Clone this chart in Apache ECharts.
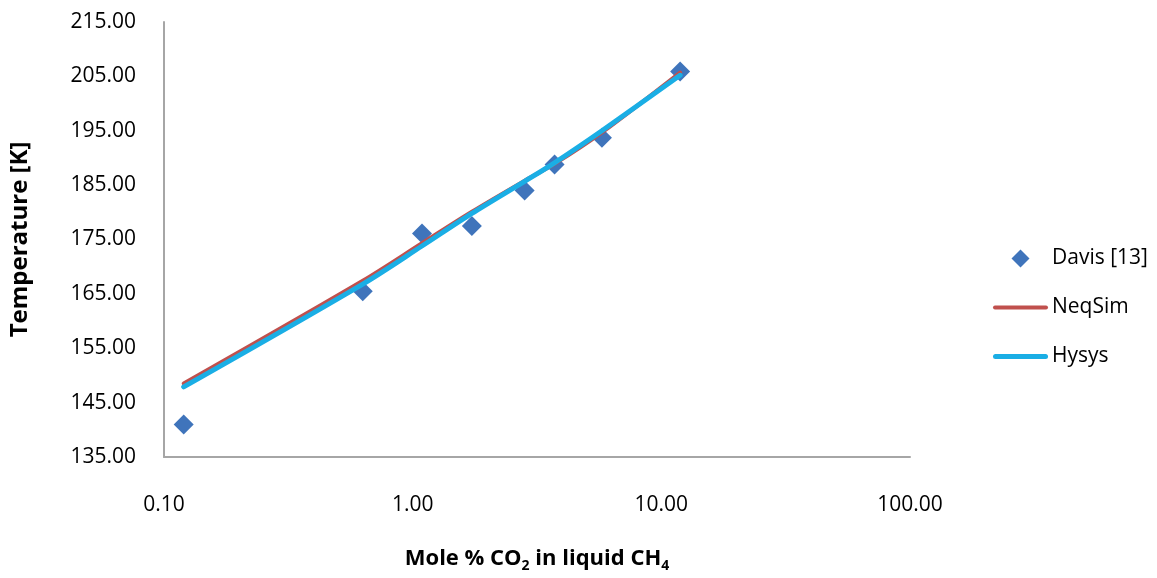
<!DOCTYPE html>
<html>
<head>
<meta charset="utf-8">
<script src="https://cdn.jsdelivr.net/npm/echarts@6/dist/echarts.min.js"></script>
<style>html,body{margin:0;padding:0;background:#fff;}#c{width:1157px;height:578px;}</style>
</head>
<body>
<div id="c"></div>
<script>
// Davis [13] experimental points
var davisX = [0.12, 0.63, 1.09, 1.73, 2.82, 3.72, 5.77, 11.9];
var davisY = [141.0, 165.5, 176.1, 177.5, 184.0, 188.8, 193.7, 205.9];
// Model curves (evaluated at the same compositions)
var modelX = [0.12, 0.63, 1.09, 1.73, 2.82, 3.72, 5.77, 11.9];
var neqsimY = [148.5, 167.4, 174.3, 180.1, 185.8, 188.9, 194.7, 205.7];
var hysysY = [147.9, 166.8, 173.8, 179.8, 185.7, 189.1, 195.0, 205.2];
// Axes
var xMin = 0.1, xMax = 100;
var xTickLabels = ['0.10', '1.00', '10.00', '100.00'];
var yMin = 135, yMax = 215, yStep = 10;
var seriesNames = ['Davis [13]', 'NeqSim', 'Hysys'];

function pairs(xs, ys) { return xs.map(function (x, i) { return [x, ys[i]]; }); }

var FONT = 'Open Sans';
var TICK = 21;

var chart = echarts.init(document.getElementById('c'));
chart.setOption({
  animation: false,
  backgroundColor: '#fff',
  textStyle: { fontFamily: FONT, color: '#000' },
  grid: { left: 156, right: 247, top: 22, bottom: 110, containLabel: false },
  legend: {
    orient: 'vertical',
    left: 988,
    top: 243,
    itemWidth: 55,
    itemHeight: 18,
    itemGap: 28,
    textStyle: { fontFamily: FONT, fontSize: 21, color: '#000', padding: [0, 0, 0, -1] },
    data: [
      { name: seriesNames[0], icon: 'path://M9,0 L18,9 L9,18 L0,9 Z', itemStyle: { opacity: 1 } },
      { name: seriesNames[1], icon: 'path://M2,0 H53 A2,2 0 0 1 53,4 H2 A2,2 0 0 1 2,0 Z' },
      { name: seriesNames[2], icon: 'path://M2.5,0 H52.5 A2.5,2.5 0 0 1 52.5,5 H2.5 A2.5,2.5 0 0 1 2.5,0 Z' }
    ]
  },
  xAxis: {
    type: 'log',
    logBase: 10,
    min: xMin,
    max: xMax,
    name: '{b|Mole % CO}{s|2}{b| in liquid CH}{s|4}',
    nameLocation: 'middle',
    nameGap: 88,
    nameTextStyle: {
      rich: {
        b: { fontFamily: FONT, fontSize: 22, fontWeight: 'bold', color: '#000' },
        s: { fontFamily: FONT, fontSize: 14, fontWeight: 'bold', color: '#000', padding: [14, 0, 0, 0] }
      }
    },
    axisLine: { show: true, lineStyle: { color: '#a6a6a6', width: 2 } },
    axisTick: { show: false },
    minorTick: { show: false },
    splitLine: { show: false },
    axisLabel: {
      fontFamily: FONT, fontSize: TICK, color: '#000', margin: 38,
      formatter: function (v) {
        var i = Math.round(Math.log10(v) - Math.log10(xMin));
        return xTickLabels[i];
      }
    }
  },
  yAxis: {
    type: 'value',
    min: yMin,
    max: yMax,
    interval: yStep,
    name: 'Temperature [K]',
    nameLocation: 'middle',
    nameGap: 132,
    nameTextStyle: { fontFamily: FONT, fontSize: 24, fontWeight: 'bold', color: '#000' },
    axisLine: { show: true, lineStyle: { color: '#a6a6a6', width: 2 } },
    axisTick: { show: false },
    splitLine: { show: false },
    axisLabel: {
      fontFamily: FONT, fontSize: TICK, color: '#000', margin: 28,
      formatter: function (v) { return Number(v).toFixed(2); }
    }
  },
  series: [
    {
      name: seriesNames[0],
      type: 'scatter',
      symbol: 'diamond',
      symbolSize: 20,
      itemStyle: { color: '#3f74bb', opacity: 1 },
      data: pairs(davisX, davisY),
      z: 2
    },
    {
      name: seriesNames[1],
      type: 'line',
      smooth: 0.3,
      symbol: 'none',
      lineStyle: { color: '#c0504d', width: 4, cap: 'round' },
      itemStyle: { color: '#c0504d' },
      data: pairs(modelX, neqsimY),
      z: 3
    },
    {
      name: seriesNames[2],
      type: 'line',
      smooth: 0.3,
      symbol: 'none',
      lineStyle: { color: '#1aaee5', width: 5, cap: 'round' },
      itemStyle: { color: '#1aaee5' },
      data: pairs(modelX, hysysY),
      z: 4
    }
  ]
});
</script>
</body>
</html>
